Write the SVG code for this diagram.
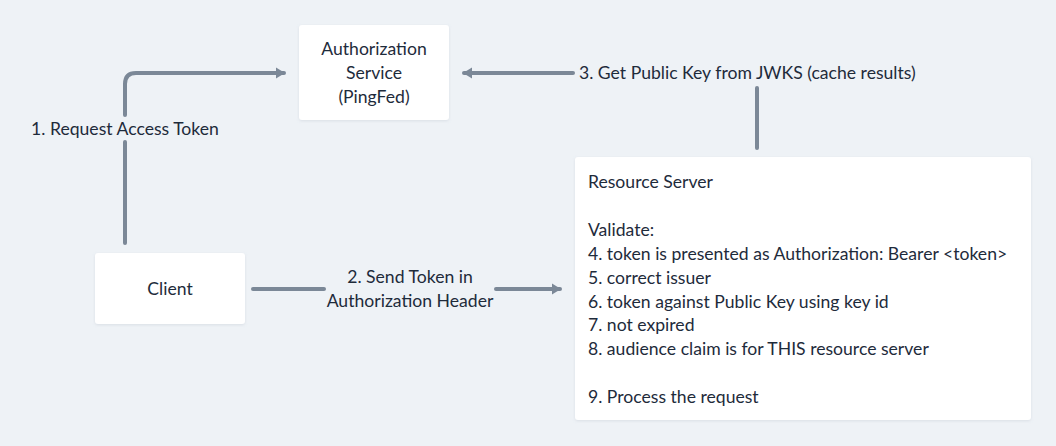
<svg xmlns="http://www.w3.org/2000/svg" width="1056" height="446" viewBox="0 0 1056 446">
<style>
.t{font-family:Lato,"Noto Sans","Liberation Sans",sans-serif;font-size:17.6px;fill:#1e2b3b;dominant-baseline:central}
.c{text-anchor:middle}
.box{fill:#ffffff;filter:url(#sh)}
.e{fill:none;stroke:#7b8897;stroke-width:4;stroke-linecap:round;stroke-linejoin:round}
</style>
<defs>
<filter id="sh" x="-10%" y="-10%" width="120%" height="130%"><feDropShadow dx="0" dy="1" stdDeviation="1.5" flood-color="#9aa6b4" flood-opacity="0.25"/></filter>
<marker id="ah" markerWidth="12" markerHeight="12" refX="8" refY="6" orient="auto" markerUnits="userSpaceOnUse"><path d="M0,0.5 L9,6 L0,11.5 Z" fill="#7b8897"/></marker>
</defs>
<rect width="1056" height="446" fill="#eef2f6"/>
<g id="connectors">
<path class="e" d="M125,243 V142"/>
<path class="e" d="M125,115 V84 Q125,73 136,73 H284" marker-end="url(#ah)"/>
<text class="t c" x="125" y="128">1. Request Access Token</text>
<path class="e" d="M757,148 V88"/>
<path class="e" d="M573,73 H464" marker-end="url(#ah)"/>
<text class="t" x="579" y="72">3. Get Public Key from JWKS (cache results)</text>
<path class="e" d="M253,289 H324"/>
<path class="e" d="M496,289 H560" marker-end="url(#ah)"/>
<text class="t c" x="410" y="276">2. Send Token in</text>
<text class="t c" x="410" y="300">Authorization Header</text>
</g>
<g id="auth">
<rect class="box" x="299" y="25" width="150" height="95" rx="3"/>
<text class="t c" x="374" y="48">Authorization</text>
<text class="t c" x="374" y="72">Service</text>
<text class="t c" x="374" y="96">(PingFed)</text>
</g>
<g id="client">
<rect class="box" x="95" y="253" width="150" height="71" rx="3"/>
<text class="t c" x="170" y="288">Client</text>
</g>
<g id="resource">
<rect class="box" x="575" y="157" width="456" height="263" rx="3"/>
<text class="t" x="588" y="181">Resource Server</text>
<text class="t" x="588" y="229">Validate:</text>
<text class="t" x="588" y="253">4. token is presented as Authorization: Bearer &lt;token&gt;</text>
<text class="t" x="588" y="277">5. correct issuer</text>
<text class="t" x="588" y="301">6. token against Public Key using key id</text>
<text class="t" x="588" y="324">7. not expired</text>
<text class="t" x="588" y="348">8. audience claim is for THIS resource server</text>
<text class="t" x="588" y="396">9. Process the request</text>
</g>
</svg>
